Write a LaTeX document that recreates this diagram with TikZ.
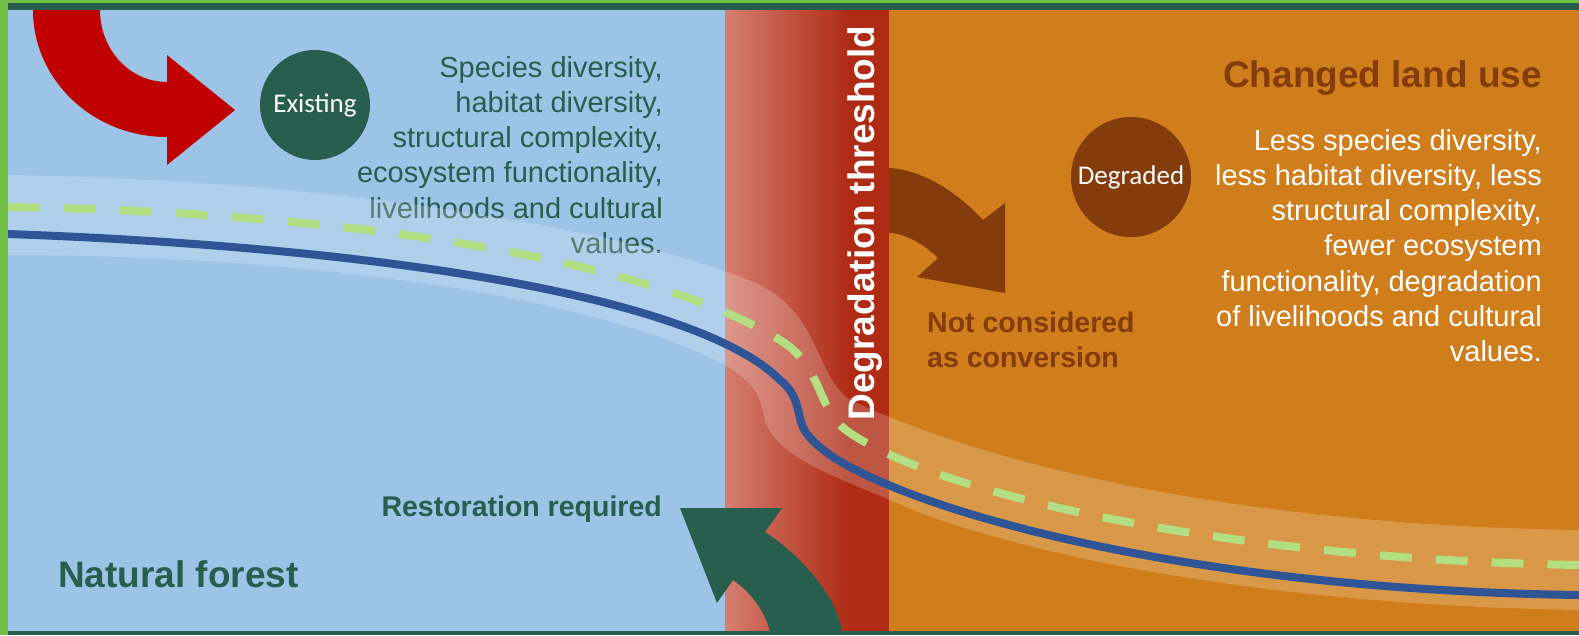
\documentclass[tikz,border=0pt]{standalone}
\usepackage{fontspec}
\setmainfont{Liberation Sans}
\newfontfamily\calib{Carlito}

\definecolor{forestblue}{RGB}{157,195,230}
\definecolor{landorange}{RGB}{208,125,27}
\definecolor{darkgreen}{RGB}{40,94,78}
\definecolor{brightgreen}{RGB}{112,190,68}
\definecolor{darkbrown}{RGB}{132,60,12}
\definecolor{arrowred}{RGB}{192,0,0}
\definecolor{lineblue}{RGB}{47,85,151}
\definecolor{dashgreen}{RGB}{179,222,129}
\definecolor{redlight}{RGB}{213,126,112}
\definecolor{reddark}{RGB}{175,43,20}

\gdef\infofont{\fontsize{29}{35.2}\selectfont}
\gdef\headfont{\bfseries\fontsize{37}{42}\selectfont}

\begin{document}
\begin{tikzpicture}[x=1pt, y=-1pt,
  state/.style={circle, inner sep=0pt, text=white, font=\calib\fontsize{27}{32}\selectfont},
  info/.style={align=right, inner sep=0pt, font=\infofont},
  heading/.style={inner sep=0pt, font=\headfont},
  note/.style={inner sep=0pt, align=left, font=\bfseries\fontsize{28.5}{35}\selectfont}]

\useasboundingbox (0,0) rectangle (1579,635);

\fill[forestblue] (8,10) rectangle (725,631);
\shade[left color=redlight, right color=reddark] (725,10) rectangle (850,631);
\fill[reddark] (849,10) rectangle (889,631);
\fill[landorange] (889,10) rectangle (1579,631);

\fill[arrowred] (33,10) .. controls (33,80) and (93,137) .. (167,137) -- (167,165) -- (235,110)
  -- (167,55) -- (167,82) .. controls (130,82) and (100,50) .. (100,10) -- cycle;
\fill[darkbrown] (889,168) .. controls (925,170) and (960,195) .. (983,220) -- (1005,203) -- (1005,293)
  -- (917,277) -- (938,258) .. controls (925,245) and (905,233) .. (889,233) -- cycle;

\node[state, fill=darkgreen, minimum size=110pt] (exist) at (315,105) {Existing};
\node[state, fill=darkbrown, minimum size=120pt] (degr) at (1131,177) {Degraded};

\node[info, text=darkgreen, anchor=north east] (values) at (663,56)
  {Species diversity,\\habitat diversity,\\structural complexity,\\ecosystem functionality,\\livelihoods and cultural\\values.};
\node[info, text=white, anchor=north east] (lessvalues) at (1542,129)
  {Less species diversity,\\less habitat diversity, less\\structural complexity,\\fewer ecosystem\\functionality, degradation\\of livelihoods and cultural\\values.};
\node[heading, text=darkbrown, anchor=base east] (changed) at (1542,87) {Changed land use};
\node[heading, text=darkgreen, anchor=base west] (natural) at (58,587) {Natural forest};
\node[note, text=darkgreen, anchor=base east] (restore) at (662,516) {Restoration required};
\node[note, text=darkbrown, anchor=north west] (notconv) at (927,312) {Not considered\\as conversion};

\fill[white, opacity=0.2] (8,175) .. controls (350,180) and (650,235) .. (760,285)
  .. controls (820,315) and (815,375) .. (850,400) .. controls (1000,470) and (1250,525) .. (1579,530)
  -- (1579,610) .. controls (1250,605) and (1000,550) .. (890,500)
  .. controls (830,475) and (775,455) .. (765,420) .. controls (760,395) and (755,385) .. (730,368)
  .. controls (600,295) and (300,255) .. (8,255) -- cycle;

\draw[lineblue, line width=8pt] (8,234) .. controls (400,248) and (700,300) .. (780,380)
  .. controls (795,392) and (797,405) .. (800,418) .. controls (803,432) and (810,440) .. (830,455)
  .. controls (920,515) and (1200,590) .. (1579,595);
\draw[dashgreen, line width=8pt, dash pattern=on 32pt off 24pt] (8,207) .. controls (350,212) and (650,260) .. (780,340)
  .. controls (825,368) and (815,410) .. (850,433) .. controls (950,500) and (1250,560) .. (1579,565);

\fill[darkgreen] (842,632) .. controls (838,600) and (805,558) .. (765,532) -- (782,508) -- (680,508)
  -- (717,603) -- (733,580) .. controls (752,593) and (765,612) .. (770,632) -- cycle;

\node[heading, text=white, rotate=90, anchor=base] (threshold) at (874,223) {Degradation threshold};

\fill[brightgreen] (0,0) rectangle (1579,3);
\fill[darkgreen] (8,3) rectangle (1579,10);
\fill[brightgreen] (0,0) rectangle (8,635);
\fill[darkgreen] (8,631) rectangle (1579,635);

\end{tikzpicture}
\end{document}
